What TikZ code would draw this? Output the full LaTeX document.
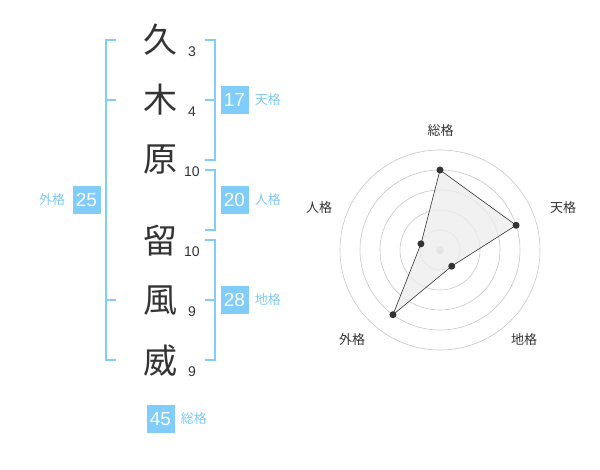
\documentclass[tikz,border=0pt]{standalone}
\usepackage{fontspec}
\setmainfont{Liberation Sans}
\newfontfamily\cjk{Noto Sans CJK JP}
\usepackage{tikz}
\usetikzlibrary{positioning}
\definecolor{kakublue}{RGB}{128,204,250}
\definecolor{kakutext}{RGB}{125,200,245}
\definecolor{inkgray}{RGB}{51,51,51}
\tikzstyle{kanji} = [text=inkgray, font=\cjk\fontsize{34}{34}\selectfont, inner sep=0pt]
\tikzstyle{strokenum} = [text=inkgray, font=\fontsize{14}{14}\selectfont, inner sep=0pt]
\tikzstyle{kakubox} = [fill=kakublue, text=white, minimum width=28pt, minimum height=28pt, inner sep=0pt, font=\fontsize{19}{19}\selectfont]
\tikzstyle{kakulabel} = [text=kakutext, font=\cjk\fontsize{13}{13}\selectfont, inner sep=0pt]
\tikzstyle{bracket} = [draw=kakublue, line width=2pt]
\tikzstyle{ring} = [draw=black!22, line width=0.6pt]
\tikzstyle{axislabel} = [text=inkgray, font=\cjk\fontsize{13}{13}\selectfont, inner sep=0pt]
\tikzstyle{dot} = [circle, fill=inkgray, inner sep=0pt, minimum size=7pt]

\begin{document}
\begin{tikzpicture}[x=1pt, y=-1pt, node distance=60pt]
  \useasboundingbox (0,0) rectangle (600,470);
  \node(a)[kanji] at (160,40){久};
  \node(b)[kanji, below of=a]{木};
  \node(c)[kanji, below of=b]{原};
  \node(d)[kanji] at (160,241){留};
  \node(e)[kanji, below of=d]{風};
  \node(f)[kanji, below of=e]{威};
  \node(na)[strokenum] at (192,52){3};
  \node(nb)[strokenum] at (192,112){4};
  \node(nc)[strokenum] at (192,172){10};
  \node(nd)[strokenum] at (192,252){10};
  \node(ne)[strokenum] at (192,312){9};
  \node(nf)[strokenum] at (192,372){9};

  \draw[bracket] (116,40) -- (106,40) -- (106,360) -- (116,360);
  \draw[bracket] (106,100) -- (116,100);
  \draw[bracket] (106,300) -- (116,300);
  \draw[bracket] (205,40) -- (215,40) -- (215,160) -- (205,160);
  \draw[bracket] (215,100) -- (205,100);
  \draw[bracket] (205,170) -- (215,170) -- (215,230) -- (205,230);
  \draw[bracket] (205,240) -- (215,240) -- (215,360) -- (205,360);
  \draw[bracket] (215,300) -- (205,300);

  \node(gai)[kakubox] at (86.5,200){25};
  \node(gail)[kakulabel, left=7pt of gai]{外格};
  \node(ten)[kakubox] at (234.5,100){17};
  \node(tenl)[kakulabel, right=6pt of ten]{天格};
  \node(jin)[kakubox] at (234.5,200){20};
  \node(jinl)[kakulabel, right=6pt of jin]{人格};
  \node(chi)[kakubox] at (234.5,300){28};
  \node(chil)[kakulabel, right=6pt of chi]{地格};
  \node(sou)[kakubox] at (160.5,419){45};
  \node(soul)[kakulabel, right=6pt of sou]{総格};

  \begin{scope}[shift={(440,250)}]
    \foreach \r in {20,40,60,80,100}
      \draw[ring] (0,0) circle (\r pt);
    \fill[black!20] (0,0) circle (4pt);
    \coordinate (psou) at (-90:80);
    \coordinate (pten) at (-18:80);
    \coordinate (pchi) at (54:20);
    \coordinate (pgai) at (126:80);
    \coordinate (pjin) at (198:20);
    \filldraw[fill=black!7, fill opacity=0.8, draw=inkgray, line width=0.6pt] (psou) -- (pten) -- (pchi) -- (pgai) -- (pjin) -- cycle;
    \foreach \p in {psou,pten,pchi,pgai,pjin}
      \node[dot] at (\p){};
    \node(lsou)[axislabel] at (0.7,-119.3){総格};
    \node(lten)[axislabel] at (123,-42){天格};
    \node(lchi)[axislabel] at (84,90){地格};
    \node(lgai)[axislabel] at (-88,90){外格};
    \node(ljin)[axislabel] at (-121,-42){人格};
  \end{scope}
\end{tikzpicture}
\end{document}
